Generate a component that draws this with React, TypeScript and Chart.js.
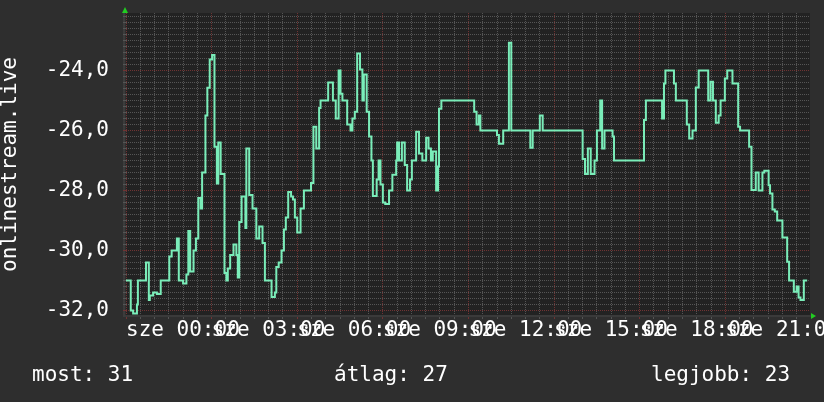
import React, { useEffect, useRef } from 'react';
import { Chart, registerables } from 'chart.js';

Chart.register(...registerables);

// ---- data: minutes since 00:00 (start of each step) and values ----
const minutes = [
  0, 10, 15, 23, 25, 42, 48, 50, 57, 65,
  73, 91, 96, 107, 111, 120, 127, 131, 135, 142,
  147, 152, 157, 160, 167, 171, 176, 181, 186, 191,
  194, 199, 207, 211, 214, 219, 226, 232, 235, 238,
  243, 251, 253, 259, 266, 274, 280, 287, 292, 306,
  313, 316, 321, 327, 332, 336, 341, 347, 351, 355,
  360, 367, 374, 389, 394, 400, 406, 409, 425, 435,
  441, 447, 451, 455, 465, 472, 476, 481, 486, 492,
  497, 500, 506, 511, 516, 519, 527, 531, 535, 540,
  545, 553, 560, 568, 570, 574, 580, 586, 591, 597,
  601, 610, 616, 623, 631, 636, 641, 645, 652, 656,
  658, 663, 732, 737, 742, 745, 780, 784, 793, 805,
  810, 850, 855, 870, 876, 960, 965, 971, 977, 985,
  990, 997, 1001, 1006, 1023, 1026, 1089, 1093, 1127, 1131,
  1134, 1152, 1156, 1179, 1184, 1191, 1198, 1204, 1224, 1229,
  1234, 1240, 1246, 1250, 1259, 1264, 1275, 1287, 1291, 1310,
  1315, 1324, 1330, 1338, 1342, 1351, 1354, 1359, 1364, 1369,
  1380, 1390, 1394, 1404, 1410, 1414, 1418, 1425, 1432,
];

const values = [
  -31.0, -32.0, -32.1, -31.8, -31.0, -30.4, -31.65, -31.5, -31.4, -31.45,
  -31.0, -30.2, -30.0, -29.6, -31.0, -31.1, -30.8, -29.35, -30.7, -30.0,
  -29.6, -28.25, -28.6, -27.4, -25.5, -24.57, -23.63, -23.48, -26.54, -27.76,
  -26.4, -27.45, -30.75, -31.0, -30.6, -30.15, -29.8, -30.15, -30.9, -29.05,
  -28.2, -29.25, -26.6, -28.15, -28.6, -29.6, -29.2, -29.75, -31.0, -31.55,
  -31.4, -30.55, -30.4, -30.0, -29.3, -28.9, -28.05, -28.2, -28.3, -28.9,
  -29.4, -28.6, -28.0, -27.75, -25.87, -26.6, -25.25, -25.0, -24.4, -25.0,
  -25.6, -24.0, -24.77, -25.0, -25.8, -26.0, -25.6, -25.37, -23.43, -23.96,
  -25.0, -24.13, -25.37, -26.2, -27.0, -28.18, -27.63, -27.0, -27.8, -28.4,
  -28.45, -28.0, -27.47, -27.0, -26.4, -27.0, -26.4, -27.15, -28.0, -27.63,
  -27.0, -26.04, -26.76, -27.0, -26.24, -26.6, -27.0, -26.7, -28.0, -27.2,
  -25.27, -25.0, -25.37, -25.8, -25.5, -26.0, -26.15, -26.44, -26.0, -23.07,
  -26.0, -26.57, -26.0, -25.5, -26.0, -26.95, -27.45, -26.6, -27.45, -27.0,
  -26.0, -25.0, -26.6, -26.0, -26.2, -27.0, -25.65, -25.0, -25.6, -24.43,
  -24.0, -24.43, -25.0, -25.8, -26.26, -26.0, -24.56, -24.0, -25.0, -24.37,
  -25.0, -25.74, -25.5, -25.0, -24.26, -24.0, -24.43, -25.87, -26.0, -26.54,
  -27.98, -27.4, -28.0, -27.4, -27.34, -27.82, -28.1, -28.63, -28.7, -29.0,
  -29.56, -30.37, -31.0, -31.37, -31.2, -31.56, -31.65, -31.0, -31.0,
];

// ---- axes / ticks ----
const X_MIN = 0;
const X_MAX = 1438;
const X_MINOR_STEP = 30;
const xMajorTicks = [0, 180, 360, 540, 720, 900, 1080, 1260];
const xTickLabels = ['sze 00:00', 'sze 03:00', 'sze 06:00', 'sze 09:00', 'sze 12:00', 'sze 15:00', 'sze 18:00', 'sze 21:00'];

const Y_MIN = -32.18;
const Y_MAX = -22.08;
const Y_MINOR_FIRST = -32.0;
const Y_MINOR_STEP = 0.2;
const yMajorTicks = [-32, -30, -28, -26, -24];
const yTickLabels = ['-32,0', '-30,0', '-28,0', '-26,0', '-24,0'];

const yTitle = 'onlinestream.live';
const legendNames = ['most', 'átlag', 'legjobb'];
const legendValues = ['31', '27', '23'];

// ---- styles ----
const FONT = "'DejaVu Sans Mono', monospace";
const OUTER_BG = '#2e2e2e';
const PLOT_BG = '#222222';
const LINE = '#7aedb9';
const MINOR = '#555555';
const MAJOR = '#703333';
const TEXT = '#ffffff';
const ARROW = '#22cc22';

const near = (a: number, b: number) => Math.abs(a - b) < 1e-6;

export default function App() {
  const ref = useRef<HTMLCanvasElement>(null);

  useEffect(() => {
    const canvas = ref.current;
    if (!canvas) return;

    const bgPlugin = {
      id: 'bgPlugin',
      beforeDraw(chart: any) {
        const { ctx, chartArea: a, width, height } = chart;
        ctx.save();
        ctx.fillStyle = OUTER_BG;
        ctx.fillRect(0, 0, width, height);
        ctx.fillStyle = PLOT_BG;
        ctx.fillRect(a.left, a.top, a.right - a.left, a.bottom - a.top);
        ctx.fillStyle = '#3c3c3c';
        ctx.fillRect(a.left - 3, a.top, 2, a.bottom - a.top + 1);
        ctx.restore();
      },
    };

    const decoPlugin = {
      id: 'decoPlugin',
      afterDraw(chart: any) {
        const { ctx, chartArea: a } = chart;
        ctx.save();
        ctx.fillStyle = ARROW;
        // up arrow at top of y axis
        ctx.beginPath();
        ctx.moveTo(a.left - 4, a.top);
        ctx.lineTo(a.left + 2, a.top);
        ctx.lineTo(a.left - 1, a.top - 6);
        ctx.closePath();
        ctx.fill();
        // right arrow at end of x axis
        ctx.beginPath();
        ctx.moveTo(a.right + 1, a.bottom - 3);
        ctx.lineTo(a.right + 1, a.bottom + 3);
        ctx.lineTo(a.right + 6, a.bottom);
        ctx.closePath();
        ctx.fill();
        // legend line
        ctx.fillStyle = TEXT;
        ctx.font = `21px ${FONT}`;
        ctx.textBaseline = 'alphabetic';
        const xs = [32, 334, 651];
        legendNames.forEach((n, i) => {
          ctx.fillText(`${n}: ${legendValues[i]}`, xs[i], 381);
        });
        ctx.restore();
      },
    };

    const data = minutes.map((m, i) => ({ x: m, y: values[i] }));

    const yTicks: number[] = [];
    for (let v = Y_MINOR_FIRST; v <= Y_MAX + 1e-9; v = Math.round((v + Y_MINOR_STEP) * 10) / 10) yTicks.push(v);
    const xTicks: number[] = [];
    for (let m = X_MIN; m <= X_MAX; m += X_MINOR_STEP) xTicks.push(m);

    const isMajorX = (v: number) => xMajorTicks.some((t) => near(t, v));
    const isMajorY = (v: number) => yMajorTicks.some((t) => near(t, v));

    const chart = new Chart(canvas, {
      type: 'line',
      data: {
        datasets: [
          {
            data,
            borderColor: LINE,
            borderWidth: 2,
            stepped: true,
            pointRadius: 0,
            fill: false,
          },
        ],
      },
      plugins: [bgPlugin, decoPlugin],
      options: {
        animation: false,
        responsive: false,
        devicePixelRatio: 1,
        layout: { padding: { left: 0, top: 13, right: 14, bottom: 0 } },
        plugins: { legend: { display: false }, tooltip: { enabled: false } },
        scales: {
          x: {
            type: 'linear',
            min: X_MIN,
            max: X_MAX,
            afterBuildTicks: (scale: any) => {
              scale.ticks = xTicks.map((v) => ({ value: v }));
            },
            afterFit: (scale: any) => {
              scale.height = 86;
              scale.paddingLeft = 0;
              scale.paddingRight = 0;
            },
            ticks: {
              autoSkip: false,
              maxRotation: 0,
              minRotation: 0,
              align: 'start',
              padding: 1,
              color: TEXT,
              font: { family: FONT, size: 21, lineHeight: 1 },
              callback: (v: any) => {
                const idx = xMajorTicks.findIndex((t) => near(t, Number(v)));
                return idx >= 0 ? xTickLabels[idx] : '';
              },
            },
            grid: {
              color: (c: any) => (c.tick && isMajorX(c.tick.value) ? MAJOR : MINOR),
              tickColor: (c: any) => (c.tick && isMajorX(c.tick.value) ? MAJOR : MINOR),
              lineWidth: 1,
              drawTicks: true,
              tickLength: 3,
            },
            border: { display: true, color: '#3a3a3a', width: 2, dash: [1, 1] },
          },
          y: {
            type: 'linear',
            min: Y_MIN,
            max: Y_MAX,
            afterBuildTicks: (scale: any) => {
              scale.ticks = yTicks.map((v) => ({ value: v }));
            },
            afterFit: (scale: any) => {
              scale.width = 126;
              scale.paddingTop = 0;
              scale.paddingBottom = 0;
            },
            title: {
              display: true,
              text: yTitle,
              color: TEXT,
              padding: 0,
              font: { family: FONT, size: 21, lineHeight: 1.05 },
            },
            ticks: {
              autoSkip: false,
              padding: 14,
              color: TEXT,
              font: { family: FONT, size: 21, lineHeight: 1.2 },
              callback: (v: any) => {
                const idx = yMajorTicks.findIndex((t) => near(t, Number(v)));
                return idx >= 0 ? yTickLabels[idx] : '';
              },
            },
            grid: {
              color: (c: any) => (c.tick && isMajorY(c.tick.value) ? MAJOR : MINOR),
              tickColor: (c: any) => (c.tick && isMajorY(c.tick.value) ? MAJOR : MINOR),
              lineWidth: 1,
              drawTicks: true,
              tickLength: 3,
            },
            border: { display: false, dash: [1, 1] },
          },
        },
      } as any,
    });

    return () => chart.destroy();
  }, []);

  return (
    <div style={{ position: 'fixed', left: 0, top: 0, width: 824, height: 402, background: OUTER_BG }}>
      <canvas ref={ref} width={824} height={402} style={{ display: 'block', width: 824, height: 402 }} />
    </div>
  );
}
